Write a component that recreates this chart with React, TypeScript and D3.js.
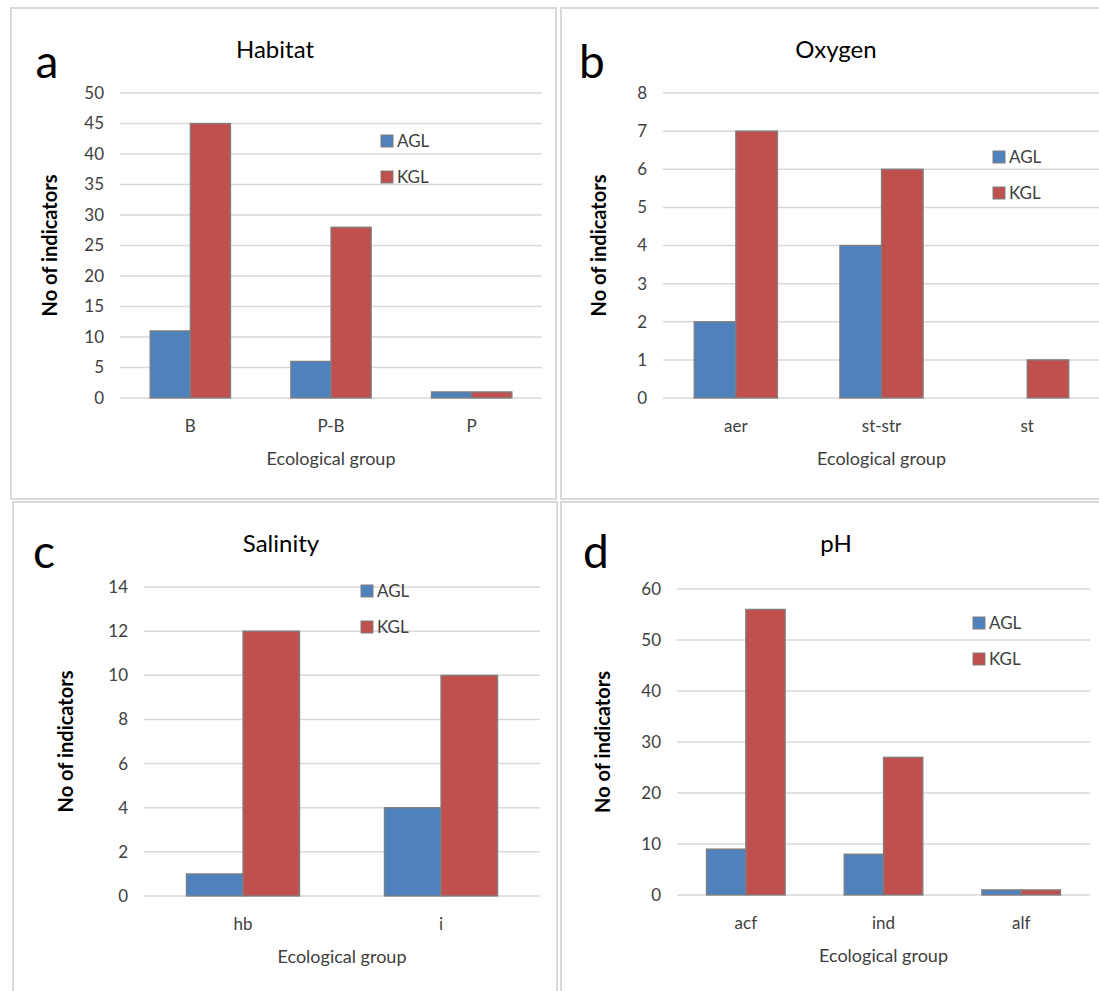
import React from 'react';
import * as d3 from 'd3';

// chart data
const seriesNames = ['AGL', 'KGL'];
const seriesColors = ['#4F81BD', '#C0504D'];

const habitatCats = ['B', 'P-B', 'P'];
const habitatAGL = [11, 6, 1];
const habitatKGL = [45, 28, 1];
const habitatTicks = [0, 5, 10, 15, 20, 25, 30, 35, 40, 45, 50];

const oxygenCats = ['aer', 'st-str', 'st'];
const oxygenAGL = [2, 4, 0];
const oxygenKGL = [7, 6, 1];
const oxygenTicks = [0, 1, 2, 3, 4, 5, 6, 7, 8];

const salinityCats = ['hb', 'i'];
const salinityAGL = [1, 4];
const salinityKGL = [12, 10];
const salinityTicks = [0, 2, 4, 6, 8, 10, 12, 14];

const phCats = ['acf', 'ind', 'alf'];
const phAGL = [9, 8, 1];
const phKGL = [56, 27, 1];
const phTicks = [0, 10, 20, 30, 40, 50, 60];

const FONT = 'Lato, "Open Sans", sans-serif';

type PanelProps = {
  letter: string;
  title: string;
  cats: string[];
  agl: number[];
  kgl: number[];
  ticks: number[];
  box: { x: number; y: number; w: number; h: number };
  plot: { x0: number; x1: number; y0: number; y1: number };
  titleX: number;
  letterPos: [number, number];
  legendPos: [number, number];
  yTitleX: number;
};

const Panel = (p: PanelProps) => {
  const x = d3.scaleBand().domain(p.cats).range([p.plot.x0, p.plot.x1]).padding(0);
  const inner = d3.scaleBand().domain(seriesNames).range([0, x.bandwidth()])
    .paddingInner(0).paddingOuter(0.75);
  const y = d3.scaleLinear().domain([0, d3.max(p.ticks) as number]).range([p.plot.y1, p.plot.y0]);
  const values = [p.agl, p.kgl];
  const midX = (p.plot.x0 + p.plot.x1) / 2;

  return (
    <g fontFamily={FONT}>
      <rect x={p.box.x} y={p.box.y} width={p.box.w} height={p.box.h}
        fill="#fff" stroke="#d9d9d9" strokeWidth={2} />
      <text x={p.letterPos[0]} y={p.letterPos[1]} fontSize={46} fill="#000"
        textAnchor="middle">{p.letter}</text>
      <text x={p.titleX} y={p.box.y + 50} fontSize={24} fill="#000"
        textAnchor="middle">{p.title}</text>

      {/* gridlines */}
      {p.ticks.map(t => (
        <line key={'g' + t} x1={p.plot.x0} x2={p.plot.x1} y1={y(t)} y2={y(t)}
          stroke="#d9d9d9" strokeWidth={1.5} />
      ))}
      {p.ticks.map(t => (
        <text key={'t' + t} x={p.plot.x0 - 16} y={y(t)} dy="0.35em" fontSize={17}
          fill="#404040" textAnchor="end">{t}</text>
      ))}

      {/* bars */}
      {values.map((vals, si) => vals.map((v, ci) => v > 0 ? (
        <rect key={si + '-' + ci}
          x={(x(p.cats[ci]) as number) + (inner(seriesNames[si]) as number)}
          y={y(v)} width={inner.bandwidth()} height={y(0) - y(v)}
          fill={seriesColors[si]} stroke="#7f7f7f" strokeWidth={1.3} />
      ) : null))}

      {/* category labels */}
      {p.cats.map(c => (
        <text key={'c' + c} x={(x(c) as number) + x.bandwidth() / 2} y={p.plot.y1 + 34}
          fontSize={17} fill="#404040" textAnchor="middle">{c}</text>
      ))}

      <text x={midX} y={p.plot.y1 + 67} fontSize={18} fill="#404040"
        textAnchor="middle">Ecological group</text>
      <text transform={`translate(${p.yTitleX},${(p.plot.y0 + p.plot.y1) / 2}) rotate(-90)`}
        fontSize={20} fontWeight="bold" fill="#000" textAnchor="middle">No of indicators</text>

      {/* legend */}
      {seriesNames.map((s, i) => (
        <g key={'l' + s} transform={`translate(${p.legendPos[0]},${p.legendPos[1] + i * 36})`}>
          <rect x={0} y={-6} width={12} height={12} fill={seriesColors[i]} stroke="#7f7f7f" strokeWidth={1} />
          <text x={16} y={0} dy="0.35em" fontSize={17} fill="#404040">{s}</text>
        </g>
      ))}
    </g>
  );
};

export default function App() {
  return (
    <svg width={1099} height={991} style={{ position: 'absolute', left: 0, top: 0, background: '#fff' }}>
      <Panel letter="a" title="Habitat" cats={habitatCats} agl={habitatAGL} kgl={habitatKGL}
        ticks={habitatTicks} box={{ x: 11, y: 8, w: 545, h: 491 }}
        plot={{ x0: 120, x1: 542, y0: 93, y1: 398 }} titleX={275}
        letterPos={[47, 78]} legendPos={[381, 141]} yTitleX={57} />
      <Panel letter="b" title="Oxygen" cats={oxygenCats} agl={oxygenAGL} kgl={oxygenKGL}
        ticks={oxygenTicks} box={{ x: 561, y: 8, w: 560, h: 491 }}
        plot={{ x0: 663, x1: 1100, y0: 93, y1: 398 }} titleX={836}
        letterPos={[592, 78]} legendPos={[993, 157]} yTitleX={606} />
      <Panel letter="c" title="Salinity" cats={salinityCats} agl={salinityAGL} kgl={salinityKGL}
        ticks={salinityTicks} box={{ x: 13, y: 502, w: 544, h: 520 }}
        plot={{ x0: 144, x1: 540, y0: 587, y1: 896 }} titleX={281}
        letterPos={[44, 568]} legendPos={[361, 591]} yTitleX={73} />
      <Panel letter="d" title="pH" cats={phCats} agl={phAGL} kgl={phKGL}
        ticks={phTicks} box={{ x: 561, y: 502, w: 560, h: 520 }}
        plot={{ x0: 677, x1: 1090, y0: 589, y1: 895 }} titleX={836}
        letterPos={[596, 568]} legendPos={[973, 623]} yTitleX={610} />
    </svg>
  );
}
